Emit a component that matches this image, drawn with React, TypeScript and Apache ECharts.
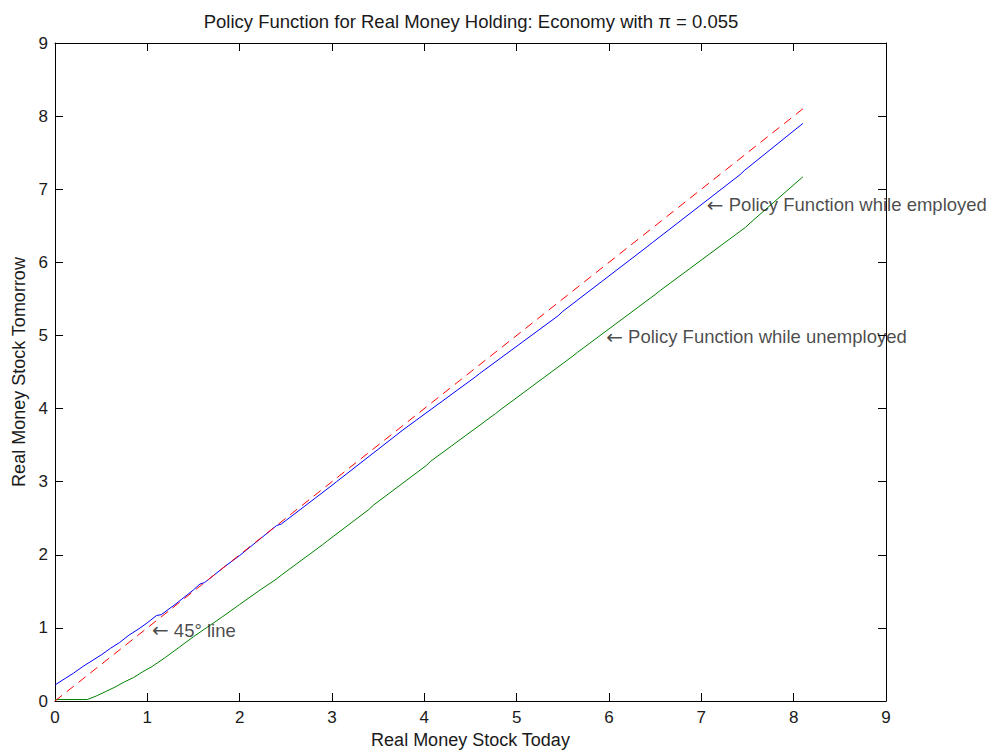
import React, { useEffect, useRef } from "react";
import * as echarts from "echarts";

const titleText = "Policy Function for Real Money Holding: Economy with \u03c0 = 0.055";
const xAxisName = "Real Money Stock Today";
const yAxisName = "Real Money Stock Tomorrow";

const lineX45 = [0, 8.1];
const lineY45 = [0, 8.1];

const employedX = [0, 0.1, 0.2, 0.3, 0.4, 0.5, 0.6, 0.7, 0.8, 0.9, 1.0, 1.1, 1.15, 1.3, 1.5, 1.57, 1.62, 1.8, 1.85, 2.0, 2.4, 2.45, 3.0, 3.05, 3.7, 3.76, 4.55, 4.6, 5.45, 5.5, 6.42, 6.47, 7.42, 7.47, 8.1];
const employedY = [0.22, 0.3, 0.38, 0.47, 0.55, 0.63, 0.72, 0.8, 0.9, 0.98, 1.07, 1.17, 1.18, 1.32, 1.52, 1.6, 1.62, 1.8, 1.85, 1.99, 2.4, 2.42, 2.95, 3.0, 3.64, 3.7, 4.43, 4.48, 5.27, 5.33, 6.22, 6.27, 7.2, 7.26, 7.9];

const unemployedX = [0, 0.35, 0.45, 0.55, 0.65, 0.75, 0.85, 0.95, 1.05, 1.2, 1.35, 1.5, 1.65, 1.8, 2.0, 2.2, 2.4, 2.45, 2.9, 2.95, 3.4, 3.45, 4.02, 4.07, 4.77, 4.82, 5.6, 5.66, 6.5, 6.56, 7.48, 7.53, 8.1];
const unemployedY = [0.02, 0.02, 0.07, 0.13, 0.19, 0.26, 0.32, 0.4, 0.47, 0.6, 0.74, 0.88, 1.01, 1.14, 1.32, 1.5, 1.67, 1.72, 2.14, 2.19, 2.62, 2.68, 3.22, 3.28, 3.93, 3.98, 4.71, 4.77, 5.56, 5.62, 6.48, 6.54, 7.17];

const annotationTexts = ["45\u00b0 line", "Policy Function while employed", "Policy Function while unemployed"];
const annotationX = [1.05, 7.06, 5.97];
const annotationY = [0.97, 6.79, 4.98];

const FONT = "'Liberation Sans', Arial, Helvetica, sans-serif";
const TXT = "#1a1a1a";

const zip = (xs: number[], ys: number[]) => xs.map((x, i) => [x, ys[i]]);

export default function App() {
  const ref = useRef<HTMLDivElement>(null);
  useEffect(() => {
    if (!ref.current) return;
    const chart = echarts.init(ref.current, undefined, { renderer: "svg" });
    const axisCommon = {
      type: "value" as const,
      min: 0,
      max: 9,
      interval: 1,
      axisLine: { show: true, onZero: false, lineStyle: { color: "#000", width: 1 } },
      axisTick: { show: true, inside: true, length: 8, lineStyle: { color: "#000" } },
      splitLine: { show: false },
    };
    chart.setOption({
      animation: false,
      backgroundColor: "#fff",
      textStyle: { fontFamily: FONT },
      grid: { left: 55, right: 110, top: 43, bottom: 53 },
      graphic: [
        {
          type: "text",
          x: 471,
          y: 21,
          style: { text: titleText, fill: TXT, font: `18.5px ${FONT}`, textAlign: "center", textVerticalAlign: "middle" },
        },
      ],
      xAxis: [
        {
          ...axisCommon,
          position: "bottom",
          name: xAxisName,
          nameLocation: "middle",
          nameGap: 29,
          nameTextStyle: { color: TXT, fontSize: 18, fontFamily: FONT },
          axisLabel: { color: TXT, fontSize: 17, margin: 8, fontFamily: FONT },
        },
        { ...axisCommon, position: "top", axisLabel: { show: false } },
      ],
      yAxis: [
        {
          ...axisCommon,
          position: "left",
          name: yAxisName,
          nameLocation: "middle",
          nameGap: 25,
          nameTextStyle: { color: TXT, fontSize: 18, fontFamily: FONT },
          axisLabel: { color: TXT, fontSize: 17, margin: 7, fontFamily: FONT },
        },
        { ...axisCommon, position: "right", axisLabel: { show: false } },
      ],
      series: [
        {
          type: "line",
          data: zip(lineX45, lineY45),
          showSymbol: false,
          symbol: "none",
          lineStyle: { color: "#ff0000", width: 1, type: [9, 6] },
          z: 3,
        },
        {
          type: "line",
          data: zip(employedX, employedY),
          showSymbol: false,
          symbol: "none",
          lineStyle: { color: "#0000ff", width: 1 },
          z: 2,
        },
        {
          type: "line",
          data: zip(unemployedX, unemployedY),
          showSymbol: false,
          symbol: "none",
          lineStyle: { color: "#008000", width: 1 },
          z: 2,
        },
        {
          type: "scatter",
          symbolSize: 0,
          silent: true,
          data: annotationX.map((x, i) => ({ value: [x, annotationY[i]], name: annotationTexts[i] })),
          label: {
            show: true,
            position: "right",
            distance: 0,
            formatter: (p: any) => "{a|\u2190} {t|" + p.name + "}",
            rich: {
              a: { fontFamily: "'DejaVu Sans', sans-serif", fontSize: 20, color: TXT },
              t: { fontFamily: FONT, fontSize: 18.5, color: TXT },
            },
            color: TXT,
            fontSize: 18.5,
            fontFamily: FONT,
          },
          z: 5,
        },
      ],
    });
    return () => chart.dispose();
  }, []);
  return <div ref={ref} style={{ position: "fixed", left: 0, top: 0, width: 996, height: 754 }} />;
}
